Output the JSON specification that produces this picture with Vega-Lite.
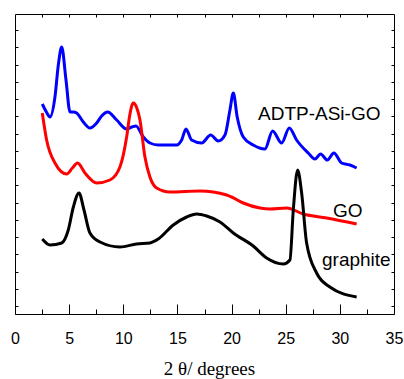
{
  "$schema": "https://vega.github.io/schema/vega-lite/v6.json",
  "width": 379,
  "height": 300,
  "autosize": "none",
  "padding": {"left": 15, "top": 14, "right": 10, "bottom": 65},
  "config": {
    "view": {"stroke": "black", "strokeWidth": 1},
    "axis": {"domain": false, "grid": false, "tickColor": "black", "tickWidth": 1}
  },
  "datasets": {
    "curves": [
      {"s": "ADTP-ASi-GO", "x": 2.52, "y": 210}, {"s": "ADTP-ASi-GO", "x": 2.9, "y": 202}, {"s": "ADTP-ASi-GO", "x": 3.23, "y": 197}, {"s": "ADTP-ASi-GO", "x": 3.69, "y": 217}, {"s": "ADTP-ASi-GO", "x": 4.0, "y": 249}, {"s": "ADTP-ASi-GO", "x": 4.31, "y": 267}, {"s": "ADTP-ASi-GO", "x": 4.71, "y": 234}, {"s": "ADTP-ASi-GO", "x": 5.08, "y": 202}, {"s": "ADTP-ASi-GO", "x": 5.4, "y": 202}, {"s": "ADTP-ASi-GO", "x": 5.69, "y": 201}, {"s": "ADTP-ASi-GO", "x": 6.31, "y": 192}, {"s": "ADTP-ASi-GO", "x": 6.92, "y": 186}, {"s": "ADTP-ASi-GO", "x": 7.54, "y": 191}, {"s": "ADTP-ASi-GO", "x": 8.0, "y": 198}, {"s": "ADTP-ASi-GO", "x": 8.56, "y": 202}, {"s": "ADTP-ASi-GO", "x": 9.39, "y": 194}, {"s": "ADTP-ASi-GO", "x": 10.31, "y": 185}, {"s": "ADTP-ASi-GO", "x": 10.8, "y": 187}, {"s": "ADTP-ASi-GO", "x": 11.17, "y": 188}, {"s": "ADTP-ASi-GO", "x": 11.85, "y": 177}, {"s": "ADTP-ASi-GO", "x": 12.46, "y": 171}, {"s": "ADTP-ASi-GO", "x": 13.23, "y": 169}, {"s": "ADTP-ASi-GO", "x": 14.93, "y": 169}, {"s": "ADTP-ASi-GO", "x": 15.39, "y": 174}, {"s": "ADTP-ASi-GO", "x": 15.79, "y": 185}, {"s": "ADTP-ASi-GO", "x": 16.31, "y": 174}, {"s": "ADTP-ASi-GO", "x": 17.24, "y": 171}, {"s": "ADTP-ASi-GO", "x": 18.07, "y": 179}, {"s": "ADTP-ASi-GO", "x": 18.77, "y": 173}, {"s": "ADTP-ASi-GO", "x": 19.39, "y": 179}, {"s": "ADTP-ASi-GO", "x": 19.85, "y": 204}, {"s": "ADTP-ASi-GO", "x": 20.16, "y": 221}, {"s": "ADTP-ASi-GO", "x": 20.52, "y": 197}, {"s": "ADTP-ASi-GO", "x": 21.08, "y": 177}, {"s": "ADTP-ASi-GO", "x": 22.0, "y": 169}, {"s": "ADTP-ASi-GO", "x": 23.08, "y": 165}, {"s": "ADTP-ASi-GO", "x": 23.79, "y": 183}, {"s": "ADTP-ASi-GO", "x": 24.62, "y": 171}, {"s": "ADTP-ASi-GO", "x": 25.33, "y": 186}, {"s": "ADTP-ASi-GO", "x": 26.0, "y": 174}, {"s": "ADTP-ASi-GO", "x": 27.08, "y": 161}, {"s": "ADTP-ASi-GO", "x": 27.7, "y": 155}, {"s": "ADTP-ASi-GO", "x": 28.22, "y": 160}, {"s": "ADTP-ASi-GO", "x": 28.84, "y": 154}, {"s": "ADTP-ASi-GO", "x": 29.45, "y": 161}, {"s": "ADTP-ASi-GO", "x": 30.16, "y": 151}, {"s": "ADTP-ASi-GO", "x": 30.93, "y": 149}, {"s": "ADTP-ASi-GO", "x": 31.55, "y": 146},
      {"s": "GO", "x": 2.52, "y": 201}, {"s": "GO", "x": 2.92, "y": 174}, {"s": "GO", "x": 3.69, "y": 151}, {"s": "GO", "x": 4.77, "y": 140}, {"s": "GO", "x": 5.3, "y": 146}, {"s": "GO", "x": 5.78, "y": 151}, {"s": "GO", "x": 6.46, "y": 141}, {"s": "GO", "x": 7.54, "y": 131}, {"s": "GO", "x": 8.77, "y": 134}, {"s": "GO", "x": 9.69, "y": 147}, {"s": "GO", "x": 10.31, "y": 177}, {"s": "GO", "x": 10.6, "y": 199}, {"s": "GO", "x": 10.92, "y": 211}, {"s": "GO", "x": 11.25, "y": 206}, {"s": "GO", "x": 11.54, "y": 194}, {"s": "GO", "x": 12.0, "y": 157}, {"s": "GO", "x": 12.46, "y": 137}, {"s": "GO", "x": 13.08, "y": 126}, {"s": "GO", "x": 14.31, "y": 122}, {"s": "GO", "x": 17.08, "y": 123}, {"s": "GO", "x": 19.54, "y": 119}, {"s": "GO", "x": 20.0, "y": 117}, {"s": "GO", "x": 21.08, "y": 111}, {"s": "GO", "x": 22.62, "y": 106}, {"s": "GO", "x": 23.54, "y": 105}, {"s": "GO", "x": 25.08, "y": 106}, {"s": "GO", "x": 26.62, "y": 100}, {"s": "GO", "x": 28.78, "y": 96}, {"s": "GO", "x": 31.55, "y": 90},
      {"s": "graphite", "x": 2.52, "y": 75}, {"s": "graphite", "x": 3.23, "y": 69}, {"s": "graphite", "x": 4.31, "y": 71}, {"s": "graphite", "x": 4.92, "y": 84}, {"s": "graphite", "x": 5.39, "y": 107}, {"s": "graphite", "x": 5.91, "y": 121}, {"s": "graphite", "x": 6.37, "y": 104}, {"s": "graphite", "x": 6.92, "y": 81}, {"s": "graphite", "x": 7.85, "y": 72}, {"s": "graphite", "x": 9.69, "y": 67}, {"s": "graphite", "x": 11.23, "y": 70}, {"s": "graphite", "x": 12.46, "y": 71}, {"s": "graphite", "x": 13.23, "y": 75}, {"s": "graphite", "x": 14.62, "y": 89}, {"s": "graphite", "x": 15.85, "y": 97}, {"s": "graphite", "x": 16.77, "y": 100}, {"s": "graphite", "x": 17.7, "y": 98}, {"s": "graphite", "x": 18.93, "y": 92}, {"s": "graphite", "x": 20.16, "y": 81}, {"s": "graphite", "x": 22.0, "y": 68}, {"s": "graphite", "x": 23.24, "y": 56}, {"s": "graphite", "x": 24.77, "y": 50}, {"s": "graphite", "x": 25.39, "y": 54}, {"s": "graphite", "x": 25.7, "y": 104}, {"s": "graphite", "x": 26.1, "y": 144}, {"s": "graphite", "x": 26.47, "y": 121}, {"s": "graphite", "x": 26.93, "y": 71}, {"s": "graphite", "x": 27.85, "y": 41}, {"s": "graphite", "x": 29.08, "y": 27}, {"s": "graphite", "x": 31.55, "y": 17}
    ],
    "labels1": [
      {"label": "ADTP-ASi-GO", "x": 22.44, "y": 194}
    ],
    "labels2": [
      {"label": "GO", "x": 29.36, "y": 97},
      {"label": "graphite", "x": 28.35, "y": 48}
    ]
  },
  "layer": [
    {
      "data": {"name": "curves"},
      "mark": {"type": "line", "strokeWidth": 3, "interpolate": "monotone"},
      "encoding": {
        "x": {
          "field": "x", "type": "quantitative",
          "scale": {"domain": [0, 35], "nice": false, "zero": false},
          "axis": {
            "orient": "bottom",
            "values": [0, 5, 10, 15, 20, 25, 30, 35],
            "tickSize": -10,
            "labelPadding": 39,
            "labelBaseline": "alphabetic",
            "labelFont": "Liberation Sans",
            "labelFontSize": 16,
            "labelColor": "black",
            "labelFlush": false,
            "labelOverlap": false,
            "title": "2 θ/ degrees",
            "titleFont": "Liberation Serif",
            "titleFontSize": 19,
            "titleFontWeight": "normal",
            "titleColor": "black",
            "titleBaseline": "alphabetic",
            "titleAlign": "center",
            "titleX": 194,
            "titleY": 60
          }
        },
        "y": {
          "field": "y", "type": "quantitative",
          "scale": {"domain": [0, 300], "nice": false, "zero": false},
          "axis": {
            "orient": "left",
            "values": [8, 25.25, 42.5, 59.75, 77, 94.25, 111.5, 128.75, 146, 163.25, 180.5, 197.75, 215, 232.25, 249.5, 266.75, 284],
            "tickSize": -3,
            "labels": false,
            "title": null
          }
        },
        "color": {
          "field": "s", "type": "nominal",
          "scale": {"domain": ["ADTP-ASi-GO", "GO", "graphite"], "range": ["#0000ff", "#ff0000", "#000000"]},
          "legend": null
        }
      }
    },
    {
      "data": {"name": "labels1"},
      "mark": {"type": "text", "font": "Liberation Sans", "fontSize": 19, "align": "left", "baseline": "alphabetic", "color": "black"},
      "encoding": {
        "x": {
          "field": "x", "type": "quantitative",
          "axis": {
            "orient": "bottom",
            "values": [2.5, 7.5, 12.5, 17.5, 22.5, 27.5, 32.5],
            "tickSize": -5,
            "labels": false,
            "title": null
          }
        },
        "y": {
          "field": "y", "type": "quantitative",
          "axis": {
            "orient": "right",
            "values": [8, 25.25, 42.5, 59.75, 77, 94.25, 111.5, 128.75, 146, 163.25, 180.5, 197.75, 215, 232.25, 249.5, 266.75, 284],
            "tickSize": -3,
            "labels": false,
            "title": null
          }
        },
        "text": {"field": "label"}
      }
    },
    {
      "data": {"name": "labels2"},
      "mark": {"type": "text", "font": "Liberation Sans", "fontSize": 19, "align": "left", "baseline": "alphabetic", "color": "black"},
      "encoding": {
        "x": {
          "field": "x", "type": "quantitative",
          "axis": {
            "orient": "top",
            "values": [2.5, 5, 7.5, 10, 12.5, 15, 17.5, 20, 22.5, 25, 27.5, 30, 32.5],
            "tickSize": -3,
            "labels": false,
            "title": null
          }
        },
        "y": {"field": "y", "type": "quantitative", "axis": null},
        "text": {"field": "label"}
      }
    }
  ],
  "resolve": {"axis": {"x": "independent", "y": "independent"}}
}
